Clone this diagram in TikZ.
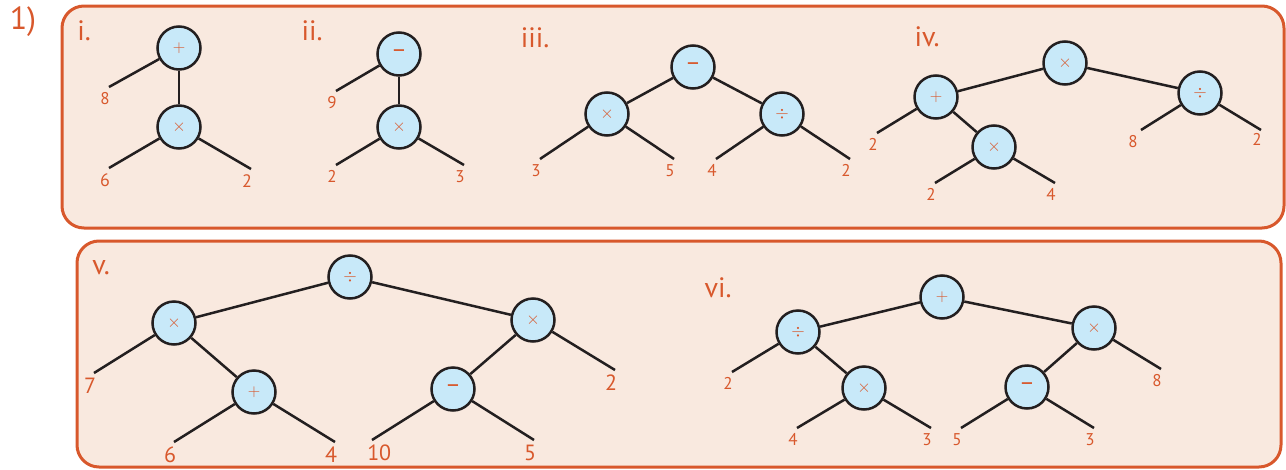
\documentclass[tikz,border=0pt]{standalone}
\usepackage{fontspec}
\setmainfont{PT Sans}
\definecolor{rust}{RGB}{216,88,44}
\definecolor{peach}{RGB}{249,233,223}
\definecolor{sky}{RGB}{200,233,249}
\definecolor{ink}{RGB}{35,31,32}
\newcommand{\opmin}{{\fontsize{24}{24}\selectfont –}}

\begin{document}
\begin{tikzpicture}[x=1pt,y=-1pt,
  panel/.style={draw=rust,line width=3pt,fill=peach,rounded corners=22pt},
  op/.style={circle,draw=ink,line width=2.5pt,fill=sky,minimum size=43pt,inner sep=0pt,text=rust,font=\fontsize{17}{17}\selectfont},
  branch/.style={draw=ink,line width=2.5pt},
  leaf/.style={anchor=north,inner sep=0pt,xshift=-4pt,yshift=-4pt,text=rust,font=\fontsize{17}{17}\selectfont},
  bigleaf/.style={leaf,font=\fontsize{22}{22}\selectfont},
  tag/.style={text=rust,font=\fontsize{28}{28}\selectfont}]
  \useasboundingbox (0,0) rectangle (1286,469);
  % panels
  \draw[panel] (62,6) rectangle (1284,228);
  \draw[panel] (77,241) rectangle (1281,467);
  \node[text=rust,font=\fontsize{32}{32}\selectfont] (qno) at (23,22) {1)};
  % labels
  \node[tag] (ti) at (84,31) {i.};
  \node[tag] (tii) at (312,31) {ii.};
  \node[tag] (tiii) at (535,38) {iii.};
  \node[tag] (tiv) at (927,37) {iv.};
  \node[tag] (tv) at (101,268) {v.};
  \node[tag] (tvi) at (718,288) {vi.};

  % tree i
  \node[op] (iA) at (179,48) {$+$};
  \node[op] (iB) at (179,127) {$\times$};
  \coordinate (i8) at (109,87);
  \coordinate (i6) at (109,168);
  \coordinate (i2) at (251,169);
  \draw[branch] (iA) -- (iB);
  \draw[branch] (iA) -- (i8) node[leaf] (li8) {8};
  \draw[branch] (iB) -- (i6) node[leaf,font=\fontsize{18}{18}\selectfont] (li6) {6};
  \draw[branch] (iB) -- (i2) node[leaf,font=\fontsize{18}{18}\selectfont] (li2) {2};

  % tree ii
  \node[op] (iiA) at (399,54) {\opmin};
  \node[op] (iiB) at (399,127) {$\times$};
  \coordinate (ii9) at (336,91);
  \coordinate (ii2) at (336,165);
  \coordinate (ii3) at (464,165);
  \draw[branch] (iiA) -- (iiB);
  \draw[branch] (iiA) -- (ii9) node[leaf] (lii9) {9};
  \draw[branch] (iiB) -- (ii2) node[leaf] (lii2) {2};
  \draw[branch] (iiB) -- (ii3) node[leaf] (lii3) {3};

  % tree iii
  \node[op] (iiiA) at (693,67) {\opmin};
  \node[op] (iiiB) at (607,114) {$\times$};
  \node[op] (iiiC) at (782,114) {$\div$};
  \coordinate (iii3) at (540,159);
  \coordinate (iii5) at (674,159);
  \coordinate (iii4) at (716,159);
  \coordinate (iii2) at (850,159);
  \draw[branch] (iiiA) -- (iiiB);
  \draw[branch] (iiiA) -- (iiiC);
  \draw[branch] (iiiB) -- (iii3) node[leaf] (liii3) {3};
  \draw[branch] (iiiB) -- (iii5) node[leaf] (liii5) {5};
  \draw[branch] (iiiC) -- (iii4) node[leaf] (liii4) {4};
  \draw[branch] (iiiC) -- (iii2) node[leaf] (liii2) {2};

  % tree iv
  \node[op] (ivA) at (1065,63) {$\times$};
  \node[op] (ivB) at (936,97) {$+$};
  \node[op] (ivC) at (1200,93) {$\div$};
  \node[op] (ivD) at (994,147) {$\times$};
  \coordinate (iv2a) at (877,133);
  \coordinate (iv2b) at (935,183);
  \coordinate (iv4) at (1055,183);
  \coordinate (iv8) at (1141,130);
  \coordinate (iv2c) at (1261,130);
  \draw[branch] (ivA) -- (ivB);
  \draw[branch] (ivA) -- (ivC);
  \draw[branch] (ivB) -- (ivD);
  \draw[branch] (ivB) -- (iv2a) node[leaf] (liv2a) {2};
  \draw[branch] (ivD) -- (iv2b) node[leaf] (liv2b) {2};
  \draw[branch] (ivD) -- (iv4) node[leaf] (liv4) {4};
  \draw[branch] (ivC) -- (iv8) node[leaf,xshift=-4pt] (liv8) {8};
  \draw[branch] (ivC) -- (iv2c) node[leaf,yshift=2pt] (liv2c) {2};

  % tree v
  \node[op] (vA) at (350,277) {$\div$};
  \node[op] (vB) at (174,323) {$\times$};
  \node[op] (vC) at (533,320) {$\times$};
  \node[op] (vD) at (254,392) {$+$};
  \node[op] (vE) at (453,389) {\opmin};
  \coordinate (v7) at (94,373);
  \coordinate (v6) at (174,442);
  \coordinate (v4) at (335,442);
  \coordinate (v2) at (615,370);
  \coordinate (v10) at (372,440);
  \coordinate (v5) at (534,440);
  \draw[branch] (vA) -- (vB);
  \draw[branch] (vA) -- (vC);
  \draw[branch] (vB) -- (vD);
  \draw[branch] (vC) -- (vE);
  \draw[branch] (vB) -- (v7) node[bigleaf] (lv7) {7};
  \draw[branch] (vD) -- (v6) node[bigleaf] (lv6) {6};
  \draw[branch] (vD) -- (v4) node[bigleaf] (lv4) {4};
  \draw[branch] (vC) -- (v2) node[bigleaf] (lv2) {2};
  \draw[branch] (vE) -- (v10) node[bigleaf,anchor=north west,xshift=-2pt] (lv10) {10};
  \draw[branch] (vE) -- (v5) node[bigleaf] (lv5) {5};

  % tree vi
  \node[op] (viA) at (942,297) {$+$};
  \node[op] (viB) at (798,332) {$\div$};
  \node[op] (viC) at (1094,328) {$\times$};
  \node[op] (viD) at (864,388) {$\times$};
  \node[op] (viE) at (1027,387) {\opmin};
  \coordinate (vi2) at (732,372);
  \coordinate (vi4) at (797,428);
  \coordinate (vi3a) at (931,428);
  \coordinate (vi5) at (961,428);
  \coordinate (vi3b) at (1094,428);
  \coordinate (vi8) at (1161,369);
  \draw[branch] (viA) -- (viB);
  \draw[branch] (viA) -- (viC);
  \draw[branch] (viB) -- (viD);
  \draw[branch] (viC) -- (viE);
  \draw[branch] (viB) -- (vi2) node[leaf] (lvi2) {2};
  \draw[branch] (viD) -- (vi4) node[leaf] (lvi4) {4};
  \draw[branch] (viD) -- (vi3a) node[leaf] (lvi3a) {3};
  \draw[branch] (viE) -- (vi5) node[leaf] (lvi5) {5};
  \draw[branch] (viE) -- (vi3b) node[leaf] (lvi3b) {3};
  \draw[branch] (viC) -- (vi8) node[leaf] (lvi8) {8};
\end{tikzpicture}
\end{document}
